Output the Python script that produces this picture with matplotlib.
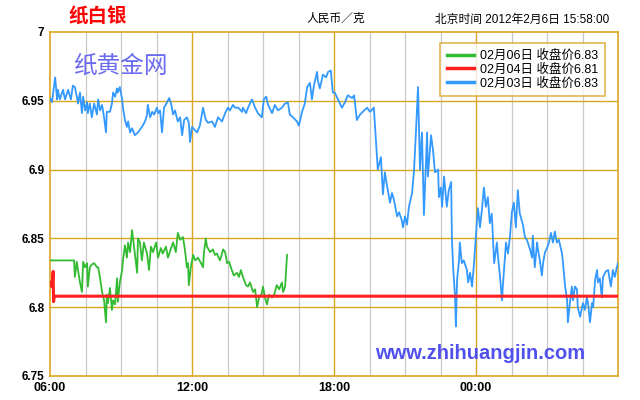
import matplotlib
matplotlib.use("Agg")
import matplotlib.pyplot as plt
import numpy as np

plt.rcParams['font.family'] = ['Liberation Sans', 'Noto Sans CJK SC', 'DejaVu Sans']

# 分钟数，从 06:00 起算（一天 1440 分钟）
blue_min = [0, 5, 13, 18, 20, 25, 33, 38, 46, 53, 58, 63, 68, 71, 76, 81, 84, 89, 94, 96,
            101, 106, 112, 119, 122, 127, 132, 137, 142, 144, 152, 157, 160, 165, 170, 172, 177, 183, 185, 190,
            195, 198, 203, 208, 215, 223, 233, 241, 246, 248, 254, 259, 264, 271, 274, 279, 284, 289, 297, 302,
            307, 312, 317, 324, 330, 335, 340, 347, 352, 355, 360, 363, 373, 380, 388, 395, 401, 411, 418, 426,
            436, 444, 451, 456, 464, 469, 477, 487, 489, 497, 502, 512, 520, 527, 537, 542, 548, 553, 563, 570,
            578, 588, 596, 603, 608, 616, 626, 631, 639, 646, 652, 659, 664, 669, 677, 679, 684, 692, 700, 705,
            712, 717, 722, 730, 740, 748, 755, 766, 771, 778, 786, 793, 804, 811, 821, 826, 831, 839, 844, 849,
            854, 862, 867, 872, 880, 885, 892, 895, 900, 905, 910, 918, 923, 928, 933, 938, 943, 948, 956, 958,
            966, 971, 976, 984, 986, 991, 994, 999, 1006, 1011, 1017, 1019, 1022, 1027, 1029, 1032, 1037, 1039, 1044, 1049,
            1057, 1060, 1065, 1070, 1075, 1082, 1085, 1090, 1095, 1100, 1105, 1110, 1115, 1120, 1126, 1133, 1136, 1141, 1146, 1148,
            1156, 1161, 1166, 1171, 1176, 1181, 1186, 1191, 1199, 1204, 1209, 1217, 1222, 1224, 1229, 1235, 1237, 1242, 1247, 1250,
            1255, 1260, 1265, 1270, 1275, 1280, 1285, 1290, 1298, 1300, 1306, 1311, 1313, 1318, 1323, 1326, 1331, 1336, 1338, 1344,
            1349, 1351, 1356, 1361, 1364, 1369, 1374, 1377, 1382, 1387, 1389, 1394, 1399, 1402, 1409, 1415, 1422, 1427, 1432, 1437,
            1440]
blue_val = [6.952, 6.949, 6.967, 6.951, 6.958, 6.951, 6.958, 6.951, 6.958, 6.951, 6.961, 6.960, 6.953, 6.948, 6.956, 6.941, 6.953, 6.943, 6.949, 6.941,
            6.948, 6.938, 6.948, 6.940, 6.951, 6.943, 6.947, 6.938, 6.927, 6.942, 6.942, 6.948, 6.956, 6.953, 6.959, 6.956, 6.960, 6.951, 6.945, 6.936,
            6.931, 6.935, 6.927, 6.930, 6.925, 6.927, 6.931, 6.935, 6.940, 6.947, 6.938, 6.942, 6.940, 6.945, 6.941, 6.943, 6.927, 6.945, 6.949, 6.952,
            6.948, 6.940, 6.943, 6.935, 6.938, 6.925, 6.936, 6.938, 6.934, 6.920, 6.931, 6.930, 6.927, 6.932, 6.945, 6.936, 6.934, 6.935, 6.931, 6.938,
            6.935, 6.941, 6.945, 6.943, 6.947, 6.945, 6.945, 6.942, 6.945, 6.941, 6.945, 6.951, 6.945, 6.941, 6.938, 6.951, 6.953, 6.947, 6.941, 6.947,
            6.943, 6.945, 6.948, 6.949, 6.940, 6.938, 6.935, 6.932, 6.942, 6.948, 6.960, 6.963, 6.951, 6.961, 6.971, 6.965, 6.959, 6.969, 6.967, 6.971,
            6.972, 6.956, 6.956, 6.951, 6.945, 6.949, 6.954, 6.952, 6.954, 6.936, 6.940, 6.942, 6.945, 6.942, 6.945, 6.922, 6.900, 6.909, 6.882, 6.898,
            6.889, 6.876, 6.883, 6.878, 6.866, 6.869, 6.863, 6.858, 6.866, 6.860, 6.873, 6.883, 6.900, 6.929, 6.960, 6.900, 6.927, 6.867, 6.927, 6.895,
            6.925, 6.914, 6.898, 6.900, 6.880, 6.887, 6.873, 6.895, 6.873, 6.885, 6.891, 6.849, 6.829, 6.807, 6.786, 6.820, 6.834, 6.847, 6.832, 6.834,
            6.827, 6.818, 6.825, 6.815, 6.832, 6.861, 6.872, 6.858, 6.871, 6.887, 6.873, 6.880, 6.861, 6.868, 6.832, 6.847, 6.836, 6.822, 6.805, 6.815,
            6.847, 6.839, 6.851, 6.869, 6.876, 6.858, 6.885, 6.868, 6.860, 6.851, 6.849, 6.842, 6.836, 6.852, 6.829, 6.847, 6.842, 6.834, 6.823, 6.832,
            6.840, 6.843, 6.847, 6.854, 6.847, 6.855, 6.847, 6.849, 6.839, 6.834, 6.815, 6.805, 6.789, 6.803, 6.815, 6.805, 6.815, 6.813, 6.800, 6.793,
            6.800, 6.803, 6.798, 6.807, 6.803, 6.789, 6.803, 6.800, 6.820, 6.827, 6.818, 6.821, 6.807, 6.822, 6.826, 6.827, 6.815, 6.827, 6.822, 6.829,
            6.832]

green_min = [0, 58, 61, 63, 68, 71, 76, 81, 84, 89, 94, 96, 101, 106, 112, 119, 122, 127, 132, 137,
             142, 144, 147, 152, 157, 160, 165, 170, 172, 177, 183, 185, 190, 195, 198, 203, 208, 213, 221, 223,
             228, 233, 238, 246, 251, 256, 261, 269, 274, 281, 286, 294, 299, 307, 312, 319, 324, 330, 337, 342,
             347, 350, 352, 357, 363, 368, 375, 383, 388, 390, 395, 398, 406, 413, 418, 423, 431, 439, 444, 449,
             454, 461, 466, 474, 479, 484, 489, 497, 502, 507, 515, 520, 525, 530, 537, 540, 545, 550, 555, 563,
             568, 575, 581, 588, 591, 596, 601]
green_val = [6.834, 6.834, 6.834, 6.822, 6.833, 6.827, 6.818, 6.811, 6.833, 6.829, 6.832, 6.815, 6.829, 6.831, 6.832, 6.829, 6.829, 6.821, 6.811, 6.805,
             6.789, 6.809, 6.803, 6.814, 6.798, 6.805, 6.802, 6.821, 6.804, 6.818, 6.827, 6.834, 6.845, 6.836, 6.847, 6.840, 6.856, 6.844, 6.825, 6.850,
             6.847, 6.834, 6.847, 6.839, 6.827, 6.844, 6.840, 6.847, 6.836, 6.843, 6.839, 6.844, 6.836, 6.843, 6.847, 6.840, 6.854, 6.849, 6.851, 6.842,
             6.829, 6.832, 6.816, 6.829, 6.838, 6.834, 6.836, 6.832, 6.829, 6.839, 6.850, 6.844, 6.840, 6.842, 6.838, 6.839, 6.834, 6.842, 6.840, 6.832,
             6.833, 6.827, 6.823, 6.825, 6.822, 6.827, 6.822, 6.816, 6.815, 6.818, 6.811, 6.813, 6.800, 6.807, 6.810, 6.815, 6.807, 6.802, 6.809, 6.807,
             6.809, 6.816, 6.813, 6.818, 6.811, 6.815, 6.838]

red_min = [0, 3, 5, 8, 9, 11, 1440]
red_val = [6.818, 6.816, 6.815, 6.826, 6.804, 6.808, 6.808]

labels = ['02月06日 收盘价6.83', '02月04日 收盘价6.81', '02月03日 收盘价6.83']
x_ticks = [0, 360, 720, 1080]
x_labels = ['06:00', '12:00', '18:00', '00:00']
y_ticks = [6.75, 6.8, 6.85, 6.9, 6.95, 7]
y_labels = ['6.75', '6.8', '6.85', '6.9', '6.95', '7']

gold = '#DAA520'
gray = '#C8C8C8'

fig = plt.figure(figsize=(6.4, 4), dpi=100)
ax = fig.add_axes([50 / 640, 24 / 400, 568 / 640, 344 / 400])

# 网格：每 90 分钟一条灰线，每 6 小时一条金色线
for m in range(90, 1440, 90):
    if m % 360 == 0:
        ax.axvline(m, color=gold, lw=1, zorder=1)
    else:
        ax.axvline(m, color=gray, lw=0.9, zorder=1)
for v in y_ticks[1:-1]:
    ax.axhline(v, color=gold, lw=1, zorder=1)

lb, = ax.plot(blue_min, blue_val, color='#3399FF', lw=1.3, zorder=3)
lg, = ax.plot(green_min, green_val, color='#33BB33', lw=1.3, zorder=4)
lr, = ax.plot(red_min, red_val, color='#FF2020', lw=2.2, zorder=5)

ax.set_xlim(0, 1440)
ax.set_ylim(6.75, 7)
ax.set_xticks(x_ticks)
ax.set_xticklabels(x_labels, fontsize=9, fontweight='bold')
ax.set_yticks(y_ticks)
ax.set_yticklabels(y_labels, fontsize=8.5, fontweight='bold')
ax.tick_params(length=0, pad=4)
for s in ax.spines.values():
    s.set_color(gold)
    s.set_linewidth(1.2)

leg = ax.legend([lg, lr, lb], labels, loc='upper right', bbox_to_anchor=(0.988, 0.985),
                fontsize=9, frameon=True, fancybox=False, handlelength=2.2,
                borderpad=0.5, labelspacing=0.12, handletextpad=0.5)
leg.get_frame().set_edgecolor(gold)
leg.get_frame().set_linewidth(1.2)
for h in leg.get_lines():
    h.set_linewidth(2.5)
leg.set_zorder(6)

ax.text(0.04, 0.9, '纸黄金网', transform=ax.transAxes, fontsize=17, color='#6B6BF0',
        ha='left', va='center', family=['Noto Sans CJK SC'])
ax.text(0.757, 0.065, 'www.zhihuangjin.com', transform=ax.transAxes, fontsize=14.5,
        color='#5050EE', fontweight='bold', ha='center', va='center')

fig.text(98 / 640, 1 - 17 / 400, '纸白银', color='#FF0000', fontsize=14, fontweight='bold',
         ha='center', va='center', family=['Noto Sans CJK SC'])
fig.text(336 / 640, 1 - 19 / 400, '人民币／克', fontsize=8.5, ha='center', va='center')
fig.text(522 / 640, 1 - 20 / 400, '北京时间 2012年2月6日 15:58:00', fontsize=8.5,
         ha='center', va='center')

fig.savefig('out.png', dpi=100, facecolor='white')
